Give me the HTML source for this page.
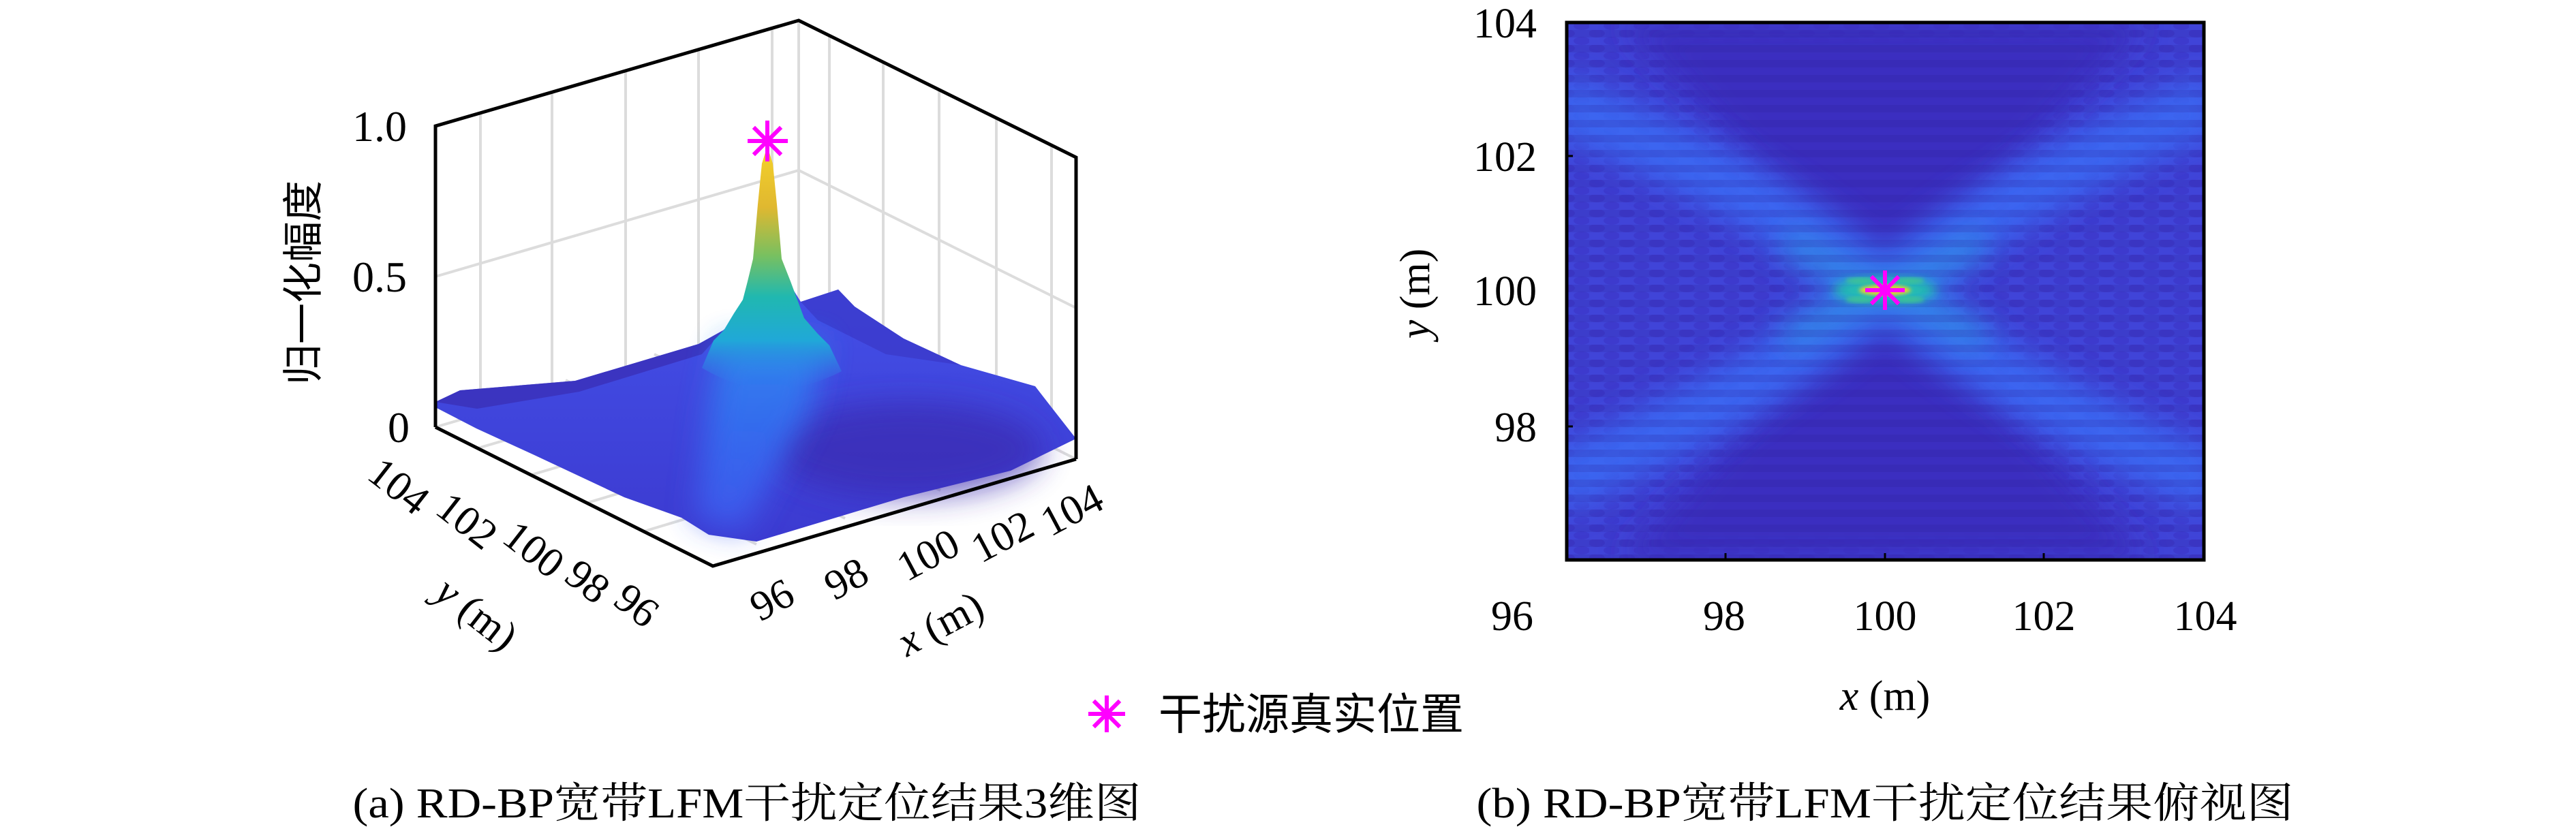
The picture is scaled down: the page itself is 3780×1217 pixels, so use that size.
<!DOCTYPE html>
<html><head><meta charset="utf-8"><style>
html,body{margin:0;padding:0;background:#fff;}
svg{display:block;}
text{font-family:"Liberation Serif","Noto Serif CJK SC",serif;fill:#000;}
.cjk{font-family:"Liberation Serif","Noto Sans CJK SC",sans-serif;}
</style></head><body>
<svg width="3780" height="1217" viewBox="0 0 3780 1217" xmlns="http://www.w3.org/2000/svg">
<defs>
  <filter id="b8" x="-20%" y="-20%" width="140%" height="140%"><feGaussianBlur stdDeviation="8"/></filter>
  <filter id="b20" x="-30%" y="-30%" width="160%" height="160%"><feGaussianBlur stdDeviation="22"/></filter>
  <filter id="b4"><feGaussianBlur stdDeviation="3"/></filter>
  <linearGradient id="spike" x1="0" y1="0" x2="0" y2="1">
    <stop offset="0" stop-color="#f5d22a"/>
    <stop offset="0.25" stop-color="#e0b830"/>
    <stop offset="0.45" stop-color="#78c060"/>
    <stop offset="0.62" stop-color="#20b8b0"/>
    <stop offset="0.8" stop-color="#20a8d8"/>
    <stop offset="1" stop-color="#3478f0" stop-opacity="0"/>
  </linearGradient>
  <linearGradient id="surf" x1="0" y1="0" x2="0" y2="1">
    <stop offset="0" stop-color="#4350e8"/>
    <stop offset="1" stop-color="#3c3ad0"/>
  </linearGradient>
  <linearGradient id="ridge" x1="0" y1="0" x2="0" y2="1">
    <stop offset="0" stop-color="#2c8cf0"/>
    <stop offset="0.5" stop-color="#3470f2"/>
    <stop offset="1" stop-color="#3f5cf0"/>
  </linearGradient>
  <clipPath id="hm"><rect x="2299" y="33" width="935" height="789"/></clipPath>
  <pattern id="stripes" width="10" height="22" patternUnits="userSpaceOnUse">
    <rect width="10" height="11" fill="#2a1a90" opacity="0.18"/>
  </pattern>
  <pattern id="checks" width="44" height="22" patternUnits="userSpaceOnUse">
    <ellipse cx="11" cy="5" rx="12" ry="6" fill="#3a2fc0" opacity="0.45"/>
    <ellipse cx="33" cy="16" rx="12" ry="6" fill="#3a2fc0" opacity="0.45"/>
  </pattern>
</defs>

<!-- ========== LEFT 3D PLOT ========== -->
<g stroke="#dcdcdc" stroke-width="4" fill="none">
  <line x1="705" y1="166" x2="705" y2="608"/>
  <line x1="810" y1="135" x2="810" y2="577"/>
  <line x1="918" y1="104" x2="918" y2="545"/>
  <line x1="1025" y1="73" x2="1025" y2="513"/>
  <line x1="1133" y1="41" x2="1133" y2="481"/>
  <line x1="1172" y1="30" x2="1172" y2="470"/>
  <line x1="1217" y1="52" x2="1217" y2="493"/>
  <line x1="1296" y1="91" x2="1296" y2="532"/>
  <line x1="1378" y1="132" x2="1378" y2="573"/>
  <line x1="1462" y1="173" x2="1462" y2="615"/>
  <line x1="1543" y1="213" x2="1543" y2="656"/>
  <polyline points="639,406 1172,250 1579,452"/>
  <polyline points="639,627 1172,470 1579,674"/>
  <line x1="701" y1="658" x2="1233" y2="502"/>
  <line x1="780" y1="697" x2="1310" y2="540"/>
  <line x1="862" y1="738" x2="1390" y2="581"/>
  <line x1="945" y1="780" x2="1470" y2="622"/>
  <line x1="1110" y1="799" x2="700" y2="596"/>
  <line x1="1240" y1="761" x2="830" y2="558"/>
  <line x1="1380" y1="720" x2="960" y2="520"/>
</g>

<!-- surface -->
<polygon points="639,590 675,573 844,559 1025,505 1061,485 1091,458 1099,419 1160,419 1175,443 1230,425 1254,450 1326,497 1410,536 1519,567 1543,598 1579,644 1483,691 1326,730 1110,795 1040,785 1000,760 916,730 784,668 699,629 639,598" fill="url(#surf)"/>
<polygon points="639,590 675,573 844,559 1025,505 1061,485 1030,520 850,575 700,600" fill="#3a2fb8" opacity="0.8"/>
<polygon points="1175,443 1230,425 1254,450 1326,497 1410,536 1300,520 1200,470" fill="#3a38c8" opacity="0.7"/>
<ellipse cx="1330" cy="660" rx="200" ry="70" fill="#3a2ab0" opacity="0.7" filter="url(#b20)"/>
<polygon points="1060,500 1210,500 1190,600 1090,780 1020,760 1040,600" fill="url(#ridge)" filter="url(#b20)" opacity="0.85"/>
<!-- spike -->
<path d="M1030,540 L1047,500 L1062,485 L1077,460 L1090,440 L1097,413 L1105,380 L1112,300 L1118,240 L1126,215 L1134,240 L1140,300 L1147,380 L1160,413 L1170,440 L1180,467 L1200,490 L1217,507 L1235,545 Q1130,600 1030,540 Z" fill="url(#spike)"/>
<!-- star on 3D -->
<g stroke="#ff00ff" stroke-width="6" stroke-linecap="square">
  <line x1="1126" y1="180" x2="1126" y2="234"/>
  <line x1="1100" y1="207" x2="1153" y2="207"/>
  <line x1="1108" y1="189" x2="1144" y2="225"/>
  <line x1="1108" y1="225" x2="1144" y2="189"/>
</g>

<!-- box lines -->
<g stroke="#000" stroke-width="5" fill="none" stroke-linejoin="miter">
  <polyline points="639,627 639,185 1172,30 1579,231 1579,674"/>
  <polyline points="639,627 1046,831 1579,674"/>
</g>

<g font-size="64" text-anchor="middle">
  <text x="557" y="207">1.0</text>
  <text x="557" y="428">0.5</text>
  <text x="585" y="649">0</text>
</g>
<text class="cjk" font-size="60" text-anchor="middle" transform="translate(466,415) rotate(-90)">归一化幅度</text>

<g font-size="62" text-anchor="middle">
  <text transform="translate(585,714) rotate(38)" dy="20">104</text>
  <text transform="translate(685,765) rotate(38)" dy="20">102</text>
  <text transform="translate(783,807) rotate(38)" dy="20">100</text>
  <text transform="translate(862,854) rotate(38)" dy="20">98</text>
  <text transform="translate(934,889) rotate(38)" dy="20">96</text>
  <text transform="translate(699,901) rotate(38)" dy="20"><tspan font-style="italic">y</tspan> (m)</text>
</g>
<g font-size="62" text-anchor="middle">
  <text transform="translate(1133,881) rotate(-28)" dy="20">96</text>
  <text transform="translate(1242,850) rotate(-28)" dy="20">98</text>
  <text transform="translate(1362,815) rotate(-28)" dy="20">100</text>
  <text transform="translate(1471,788) rotate(-28)" dy="20">102</text>
  <text transform="translate(1573,749) rotate(-28)" dy="20">104</text>
  <text transform="translate(1380,916) rotate(-28)" dy="20"><tspan font-style="italic">x</tspan> (m)</text>
</g>

<!-- ========== RIGHT HEATMAP ========== -->
<g clip-path="url(#hm)">
  <rect x="2299" y="33" width="935" height="789" fill="#4044d8"/>
  <rect x="2299" y="33" width="935" height="789" fill="url(#checks)"/>
  <path d="M2380,33 L3150,33 Q2950,250 2766,426 Q2580,250 2380,33Z" fill="#3a2ec0" filter="url(#b20)"/>
  <path d="M2380,822 L3150,822 Q2950,600 2766,426 Q2580,600 2380,822Z" fill="#3a2ec0" filter="url(#b20)"/>
  <g fill="none" stroke="#3a6cf5" stroke-width="90" filter="url(#b20)" opacity="0.85">
    <path d="M2280,150 Q2560,260 2766,426 Q2970,590 3250,710"/>
    <path d="M3250,150 Q2970,260 2766,426 Q2560,590 2280,710"/>
  </g>
  <g fill="none" stroke="#2aa0e0" stroke-width="40" filter="url(#b20)" opacity="0.6">
    <path d="M2620,350 Q2700,400 2766,426 Q2830,455 2910,500"/>
    <path d="M2910,350 Q2830,400 2766,426 Q2700,455 2620,500"/>
  </g>
  <rect x="2299" y="33" width="935" height="789" fill="url(#stripes)"/>
  <ellipse cx="2766" cy="426" rx="75" ry="18" fill="#20c0b0" filter="url(#b8)"/>
  <ellipse cx="2766" cy="426" rx="38" ry="8" fill="#e8d030" filter="url(#b4)"/>
  <ellipse cx="2730" cy="412" rx="22" ry="5" fill="#40c890" filter="url(#b4)" opacity="0.8"/>
  <ellipse cx="2802" cy="412" rx="22" ry="5" fill="#40c890" filter="url(#b4)" opacity="0.8"/>
  <ellipse cx="2730" cy="440" rx="22" ry="5" fill="#40c890" filter="url(#b4)" opacity="0.8"/>
  <ellipse cx="2802" cy="440" rx="22" ry="5" fill="#40c890" filter="url(#b4)" opacity="0.8"/>
</g>
<g stroke="#ff00ff" stroke-width="6" stroke-linecap="square">
  <line x1="2766" y1="400" x2="2766" y2="452"/>
  <line x1="2740" y1="426" x2="2792" y2="426"/>
  <line x1="2748" y1="408" x2="2784" y2="444"/>
  <line x1="2748" y1="444" x2="2784" y2="408"/>
</g>
<rect x="2299" y="33" width="935" height="789" fill="none" stroke="#000" stroke-width="5"/>
<g stroke="#000" stroke-width="3">
  <line x1="2299" y1="229" x2="2308" y2="229"/>
  <line x1="2299" y1="626" x2="2308" y2="626"/>
  <line x1="2532" y1="822" x2="2532" y2="812"/>
  <line x1="2766" y1="822" x2="2766" y2="812"/>
  <line x1="2999" y1="822" x2="2999" y2="812"/>
</g>
<g font-size="62" text-anchor="end">
  <text x="2255" y="55">104</text>
  <text x="2255" y="251">102</text>
  <text x="2255" y="448">100</text>
  <text x="2255" y="648">98</text>
</g>
<g font-size="62" text-anchor="middle">
  <text x="2219" y="925">96</text>
  <text x="2530" y="925">98</text>
  <text x="2766" y="925">100</text>
  <text x="2999" y="925">102</text>
  <text x="3236" y="925">104</text>
  <text x="2766" y="1042"><tspan font-style="italic">x</tspan> (m)</text>
</g>
<text font-size="62" text-anchor="middle" transform="translate(2097,431) rotate(-90)"><tspan font-style="italic">y</tspan> (m)</text>

<g stroke="#ff00ff" stroke-width="6" stroke-linecap="square">
  <line x1="1624" y1="1024" x2="1624" y2="1072"/>
  <line x1="1600" y1="1048" x2="1648" y2="1048"/>
  <line x1="1607" y1="1031" x2="1641" y2="1065"/>
  <line x1="1607" y1="1065" x2="1641" y2="1031"/>
</g>
<text class="cjk" x="1700" y="1071" font-size="64">干扰源真实位置</text>

<text x="1096" y="1200" font-size="62" text-anchor="middle" textLength="1157" lengthAdjust="spacingAndGlyphs">(a) RD-BP宽带LFM干扰定位结果3维图</text>
<text x="2766" y="1200" font-size="62" text-anchor="middle" textLength="1199" lengthAdjust="spacingAndGlyphs">(b) RD-BP宽带LFM干扰定位结果俯视图</text>
</svg>
</body></html>
